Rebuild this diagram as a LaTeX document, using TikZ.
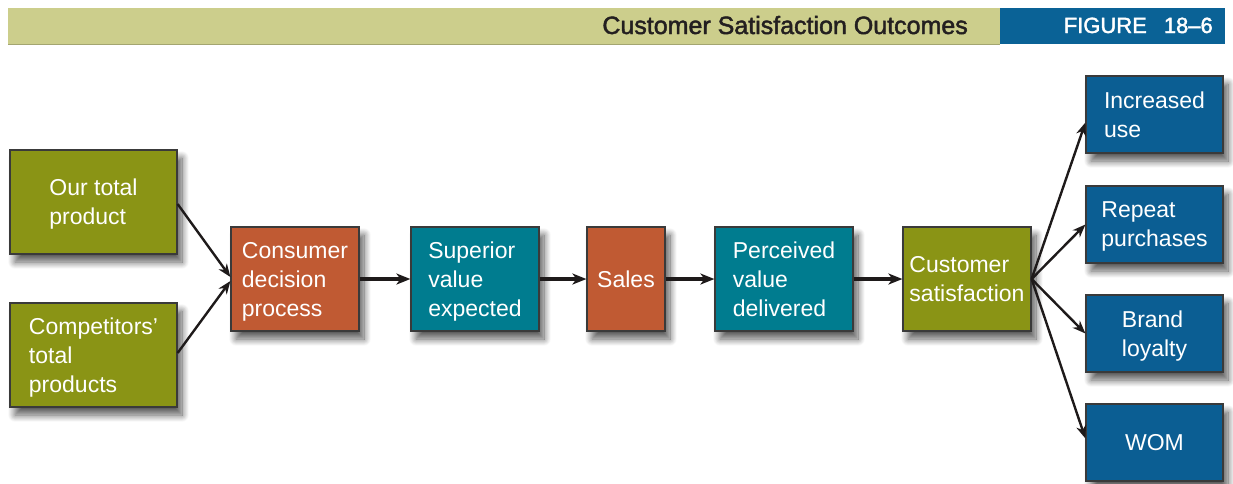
\documentclass[tikz,border=0pt]{standalone}
\usepackage{fontspec}
\setmainfont{Liberation Sans}
\newfontfamily\hdrfont[FakeBold=1.8,Ligatures=TeX]{Liberation Sans}
\usetikzlibrary{arrows.meta,shadows.blur}
\definecolor{hdrlight}{HTML}{CCCE8C}
\definecolor{hdrblue}{HTML}{0A6296}
\definecolor{olivebox}{HTML}{8A9415}
\definecolor{orangebox}{HTML}{C05A33}
\definecolor{tealbox}{HTML}{007C8F}
\definecolor{bluebox}{HTML}{0B5E93}
\definecolor{edgegray}{HTML}{3A3A3A}
\definecolor{arrowcol}{HTML}{1E1A1A}
\definecolor{titletext}{HTML}{231F20}
\tikzset{
  boxbase/.style={draw=edgegray, line width=1.2pt, inner sep=0pt, text=white,
    align=left, text depth=0pt, font=\fontsize{23}{29}\selectfont,
    blur shadow={shadow xshift=5pt, shadow yshift=-8pt, shadow blur radius=7pt, shadow blur steps=12, shadow opacity=65}},
  olivenode/.style={boxbase, fill=olivebox},
  orangenode/.style={boxbase, fill=orangebox},
  tealnode/.style={boxbase, fill=tealbox},
  bluenode/.style={boxbase, fill=bluebox, minimum width=137pt, minimum height=77pt},
  thickarrow/.style={draw=arrowcol, line width=3.8pt, -{Stealth[length=14pt,width=11pt,inset=4pt]}},
  thinarrow/.style={draw=arrowcol, line width=2.4pt, -{Stealth[length=13pt,width=10pt,inset=4pt]}},
  hdrtext/.style={anchor=base east, inner sep=0pt, font=\hdrfont\fontsize{25}{28}\selectfont},
}
\begin{document}
\begin{tikzpicture}[x=1pt,y=-1pt]
\useasboundingbox (0,0) rectangle (1233,483);
% header
\fill[hdrlight] (8,8) rectangle (1000,44);
\fill[hdrblue] (1000,8) rectangle (1225,44);
\draw[hdrlight!80!black, line width=0.8pt] (8,44) -- (1000,44);
\node[hdrtext, text=titletext] (title) at (968,34) {Customer Satisfaction Outcomes};
\node[hdrtext, text=white, font=\hdrfont\fontsize{22}{26}\selectfont] (fig) at (1213,33) {FIGURE\hspace{17pt}18–6};
% boxes
\node[olivenode, minimum width=167pt, minimum height=104pt] (our) at (93.5,202) {Our total\\product};
\node[olivenode, minimum width=167pt, minimum height=104pt] (comp) at (93.5,355) {Competitors’\\total\\products};
\node[orangenode, minimum width=128pt, minimum height=104pt] (cdp) at (295,279) {Consumer\\decision\\process};
\node[tealnode, minimum width=128pt, minimum height=104pt] (sve) at (475,279) {Superior\\value\\expected};
\node[orangenode, minimum width=78pt, minimum height=104pt] (sales) at (626,279) {Sales};
\node[tealnode, minimum width=138pt, minimum height=104pt] (pvd) at (784,279) {Perceived\\value\\delivered};
\node[olivenode, minimum width=128pt, minimum height=104pt] (cs) at (967,279) {Customer\\satisfaction};
\node[bluenode] (inc) at (1154.5,114.5) {Increased\\use};
\node[bluenode] (rep) at (1154.5,224.5) {Repeat\\purchases};
\node[bluenode] (brand) at (1154.5,333.5) {Brand\\loyalty};
\node[bluenode] (wom) at (1154.5,442.5) {WOM};
% connectors
\draw[thinarrow] ([yshift=-2pt]our.east) -- ([yshift=2pt]cdp.west);
\draw[thinarrow] ([yshift=2pt]comp.east) -- ([yshift=-2pt]cdp.west);
\draw[thickarrow] (cdp.east) -- (sve.west);
\draw[thickarrow] (sve.east) -- (sales.west);
\draw[thickarrow] (sales.east) -- (pvd.west);
\draw[thickarrow] (pvd.east) -- (cs.west);
\draw[thinarrow] (cs.east) -- ([yshift=-8pt]inc.west);
\draw[thinarrow] (cs.east) -- (rep.west);
\draw[thinarrow] (cs.east) -- (brand.west);
\draw[thinarrow] (cs.east) -- ([yshift=4pt]wom.west);
\end{tikzpicture}
\end{document}
